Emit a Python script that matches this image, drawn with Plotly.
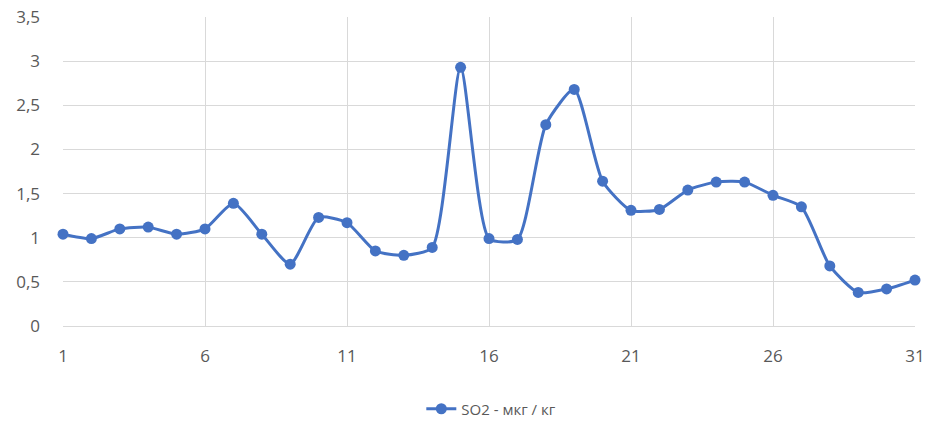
import plotly.graph_objects as go

days = list(range(1, 32))
so2 = [1.04, 0.99, 1.10, 1.12, 1.04, 1.10, 1.39, 1.04, 0.70, 1.23,
       1.17, 0.85, 0.80, 0.89, 2.93, 0.99, 0.98, 2.28, 2.68, 1.64,
       1.31, 1.32, 1.54, 1.63, 1.63, 1.48, 1.35, 0.68, 0.38, 0.42, 0.52]
series_name = "SO2 - мкг / кг"
x_ticks = [1, 6, 11, 16, 21, 26, 31]
y_ticks = [0, 0.5, 1, 1.5, 2, 2.5, 3, 3.5]

blue = "#4472C4"
grid = "#d9d9d9"
txt = "#595959"

W, H = 927, 423

fig = go.Figure(go.Scatter(
    x=days, y=so2, name=series_name, mode="lines+markers",
    line=dict(color=blue, width=3, shape="spline", smoothing=0.6),
    marker=dict(color=blue, size=11),
    cliponaxis=False,
))

fig.update_layout(
    width=W, height=H,
    margin=dict(l=63, r=12, t=17, b=97, autoexpand=False),
    paper_bgcolor="white", plot_bgcolor="white",
    separators=", ",
    font=dict(family="Open Sans, Liberation Sans, sans-serif", color=txt, size=17),
    showlegend=True,
    legend=dict(orientation="h", x=0.53, xanchor="center", xref="container",
                y=14 / H, yanchor="middle", yref="container",
                font=dict(size=15, color=txt)),
)
fig.update_xaxes(range=[1, 31], tickvals=x_ticks, showgrid=True, gridcolor=grid,
                 gridwidth=1, showline=True, linecolor=grid, linewidth=1,
                 zeroline=False, ticks="", ticklabelstandoff=15, automargin=False,
                 ticklabeloverflow="allow")
fig.update_yaxes(range=[0, 3.5], tickvals=y_ticks, showgrid=True, gridcolor=grid,
                 gridwidth=1, zeroline=False, showline=False, ticks="",
                 ticklabelstandoff=22, automargin=False, ticklabeloverflow="allow")

fig.write_html(
    "out.html",
    config={"displayModeBar": False},
    post_script="document.body.style.margin='0';document.body.style.overflow='hidden';",
)
